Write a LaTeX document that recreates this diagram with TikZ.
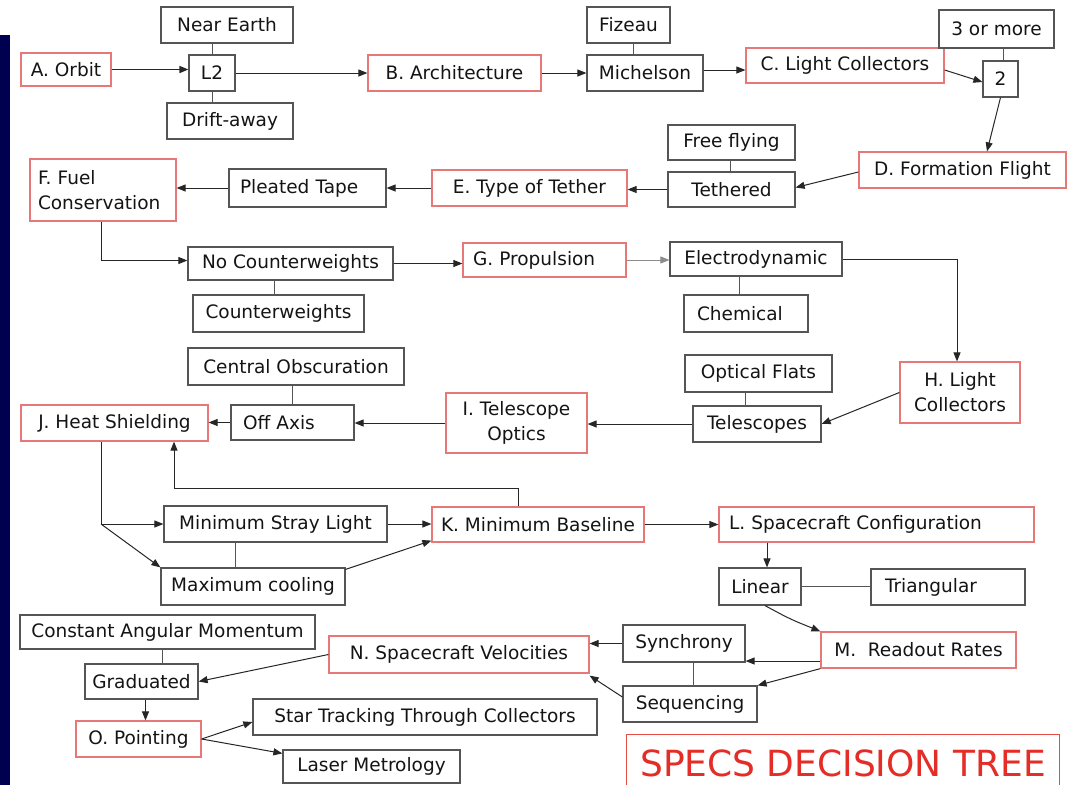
\documentclass[tikz,border=0pt]{standalone}
\usepackage{fontspec}
\setmainfont{DejaVu Sans}
\usetikzlibrary{arrows.meta,calc}
\definecolor{navy}{RGB}{0,0,80}
\definecolor{boxgray}{RGB}{85,85,85}
\definecolor{boxred}{RGB}{232,120,120}
\definecolor{specred}{RGB}{228,45,38}
\definecolor{txt}{RGB}{20,20,20}
\newcommand\mybox[7]{\node[#6, minimum width={(#4-#2)*1pt}, minimum height={(#5-#3)*1pt}] (#1) at ({(#2+#4)/2},{(#3+#5)/2}) {#7};}
\begin{document}
\begin{tikzpicture}[x=1pt,y=-1pt,
  every node/.style={font=\fontsize{18.5}{25}\selectfont, text=txt, inner sep=3pt},
  gbox/.style={draw=boxgray, line width=1.2pt},
  rbox/.style={draw=boxred, line width=1.2pt},
  arr/.style={draw=black!85, line width=1pt, -{Triangle[length=9pt,width=7pt]}},
  con/.style={draw=boxgray, line width=1pt}]
\useasboundingbox (0,0) rectangle (1071,785);
\fill[white] (0,0) rectangle (1071,785);
\fill[navy] (0,35) rectangle (10,785);

% row 1
\mybox{ao}{21}{53}{111}{86}{rbox}{A. Orbit}
\mybox{near}{161}{7}{293}{43}{gbox}{Near Earth}
\mybox{l2}{189}{55}{235}{91}{gbox}{L2}
\mybox{drift}{167}{103}{293}{139}{gbox}{Drift-away}
\mybox{arch}{368}{55}{541}{91}{rbox}{B. Architecture}
\mybox{fiz}{587}{7}{670}{43}{gbox}{Fizeau}
\mybox{mich}{587}{55}{703}{91}{gbox}{Michelson}
\mybox{lc}{746}{48}{944}{83}{rbox}{C. Light Collectors}
\mybox{three}{939}{10}{1054}{48}{gbox}{3 or more}
\mybox{two}{983}{61}{1018}{97}{gbox}{2}
% row 2
\mybox{ff}{859}{152}{1066}{188}{rbox}{D. Formation Flight}
\mybox{free}{668}{125}{795}{160}{gbox}{Free flying}
\mybox{teth}{668}{172}{795}{207}{gbox}{Tethered}
\mybox{tot}{432}{170}{627}{206}{rbox}{E. Type of Tether}
\mybox{pleat}{229}{169}{386}{207}{gbox, align=left, text width=135pt, inner xsep=11pt}{Pleated Tape}
\mybox{fuel}{30}{159}{176}{221}{rbox, align=left, text width=130pt, inner xsep=8pt}{F. Fuel\\Conservation}
% row 3
\mybox{nocw}{188}{247}{393}{280}{gbox}{No Counterweights}
\mybox{cw}{193}{295}{364}{332}{gbox}{Counterweights}
\mybox{prop}{463}{243}{626}{277}{rbox, align=left, text width=143pt, inner xsep=10pt}{G.\ Propulsion}
\mybox{elec}{670}{242}{842}{276}{gbox}{Electrodynamic}
\mybox{chem}{684}{295}{808}{332}{gbox, align=left, text width=98pt, inner xsep=13pt}{Chemical}
% row 4
\mybox{opt}{685}{355}{832}{392}{gbox}{Optical Flats}
\mybox{tel}{693}{406}{821}{442}{gbox}{Telescopes}
\mybox{H}{900}{362}{1020}{423}{rbox, align=center}{H.\ Light\\Collectors}
\mybox{I}{446}{393}{587}{453}{rbox, align=center}{I. Telescope\\Optics}
\mybox{central}{188}{348}{404}{385}{gbox}{Central Obscuration}
\mybox{off}{231}{405}{354}{440}{gbox, align=left, text width=99pt, inner xsep=12pt}{Off Axis}
\mybox{J}{21}{405}{208}{441}{rbox}{J. Heat Shielding}
% row 5
\mybox{msl}{164}{506}{387}{542}{gbox}{Minimum Stray Light}
\mybox{mc}{161}{568}{345}{605}{gbox}{Maximum cooling}
\mybox{K}{432}{507}{644}{542}{rbox}{K. Minimum Baseline}
\mybox{L}{719}{507}{1034}{542}{rbox, align=left, text width=295pt, inner xsep=10pt}{L. Spacecraft Configuration}
\mybox{lin}{719}{568}{801}{605}{gbox}{Linear}
\mybox{tri}{871}{569}{1025}{605}{gbox, align=left, text width=126pt, inner xsep=14pt}{Triangular}
% row 6
\mybox{M}{821}{632}{1016}{668}{rbox}{M.\ \ Readout Rates}
\mybox{synch}{623}{625}{745}{662}{gbox}{Synchrony}
\mybox{seq}{623}{686}{757}{722}{gbox}{Sequencing}
\mybox{N}{329}{636}{589}{673}{rbox}{N. Spacecraft Velocities}
\mybox{cam}{20}{615}{315}{649}{gbox}{Constant Angular Momentum}
\mybox{grad}{85}{664}{198}{699}{gbox}{Graduated}
\mybox{O}{76}{721}{201}{757}{rbox}{O. Pointing}
\mybox{star}{253}{699}{597}{735}{gbox}{Star Tracking Through Collectors}
\mybox{laser}{283}{750}{460}{783}{gbox}{Laser Metrology}

% title
\node[minimum width=432pt, minimum height=44pt, inner sep=0pt,
      font=\fontsize{36}{40}\selectfont, text=specred] (specs) at (843,763) {SPECS DECISION TREE};
\draw[draw=specred!85, line width=1.3pt] (specs.south west) -- ([yshift=6pt]specs.north west)
  -- ([yshift=6pt]specs.north east) -- (specs.south east);

\coordinate (kjc) at (174,488);
\coordinate (lm) at (790,619);
\coordinate (jsplit) at ([xshift=-13.5pt]J.south |- msl.west);

% plain connectors
\draw[con] (l2.north) -- (l2.north |- near.south);
\draw[con] (l2.south) -- (l2.south |- drift.north);
\draw[con] ([xshift=5pt]fiz.south) -- ([xshift=5pt]fiz.south |- mich.north);
\draw[con] ([xshift=2.5pt]two.north) -- ([xshift=2.5pt]two.north |- three.south);
\draw[con] ([xshift=-1.5pt]teth.north) -- ([xshift=-1.5pt]teth.north |- free.south);
\draw[con] ([xshift=-4.5pt]cw.north) -- ([xshift=-4.5pt]cw.north |- nocw.south);
\draw[con] ([xshift=-7pt]chem.north) -- ([xshift=-7pt]chem.north |- elec.south);
\draw[con] ([xshift=-12pt]tel.north) -- ([xshift=-12pt]tel.north |- opt.south);
\draw[con] (off.north) -- (off.north |- central.south);
\draw[con] ([xshift=-40.5pt]msl.south) -- ([xshift=-40.5pt]msl.south |- mc.north);
\draw[con] (lin.east) -- (lin.east -| tri.west);
\draw[con] ([xshift=3pt]seq.north) -- ([xshift=3pt]seq.north |- synch.south);
\draw[con] ([xshift=-5pt]cam.south) -- ([xshift=-5pt]cam.south |- grad.north);

% arrows
\draw[arr, line width=1.6pt] (ao.east) -- (ao.east -| l2.west);
\draw[arr] (l2.east) -- (l2.east -| arch.west);
\draw[arr] (arch.east) -- (arch.east -| mich.west);
\draw[arr] ([yshift=3pt]mich.east) -- ([yshift=3pt]mich.east -| lc.west);
\draw[arr] ([yshift=-4.5pt]lc.east) -- ([yshift=-3pt]two.west);
\draw[arr] (two.south) -- ([xshift=24.5pt]ff.north);
\draw[arr] ([yshift=-2pt]ff.west) -- ([yshift=2pt]teth.east);
\draw[arr] (teth.west) -- (teth.west -| tot.east);
\draw[arr] (tot.west) -- (tot.west -| pleat.east);
\draw[arr] (pleat.west) -- (pleat.west -| fuel.east);
\draw[arr] ([xshift=-2pt]fuel.south) |- ([yshift=3pt]nocw.west);
\draw[arr] (nocw.east) -- (nocw.east -| prop.west);
\draw[arr, draw=black!45, line width=0.7pt] (prop.east) -- (prop.east -| elec.west);
\draw[arr] (elec.east) -| ([xshift=-3pt]H.north);
\draw[arr] (H.west) -- (tel.east);
\draw[arr] (tel.west) -- (tel.west -| I.east);
\draw[arr] (I.west) -- (I.west -| off.east);
\draw[arr] (off.west) -- (off.west -| J.east);
\draw[arr] ([xshift=-20pt]K.north) |- (kjc) -- (kjc |- J.south);
\draw[arr] ([xshift=-13.5pt]J.south) -- (jsplit) -- (msl.west);
\draw[arr] (jsplit) -- (mc.north west);
\draw[arr] (msl.east) -- (msl.east -| K.west);
\draw[arr] ([yshift=-2pt]mc.north east) -- ([yshift=2pt]K.south west);
\draw[arr] (K.east) -- (K.east -| L.west);
\draw[arr] ([xshift=7pt]lin.north |- L.south) -- ([xshift=7pt]lin.north);
\draw[arr, rounded corners=10pt] ([xshift=5pt]lin.south) -- (lm) -- (M.north west);
\draw[arr] ([yshift=-11pt]M.west) -- ([yshift=-11pt]M.west -| synch.east);
\draw[arr] (M.south west) -- (seq.north east);
\draw[arr] (synch.west) -- (synch.west -| N.east);
\draw[arr] ([yshift=7pt]seq.west) -- ([yshift=-2pt]N.south east);
\draw[arr] (N.west) -- (grad.east);
\draw[arr] ([xshift=4pt]grad.south) -- ([xshift=4pt]grad.south |- O.north);
\draw[arr] (O.east) -- ([yshift=-5pt]star.west);
\draw[arr] (O.east) -- ([yshift=-4pt]laser.north west);
\end{tikzpicture}
\end{document}
